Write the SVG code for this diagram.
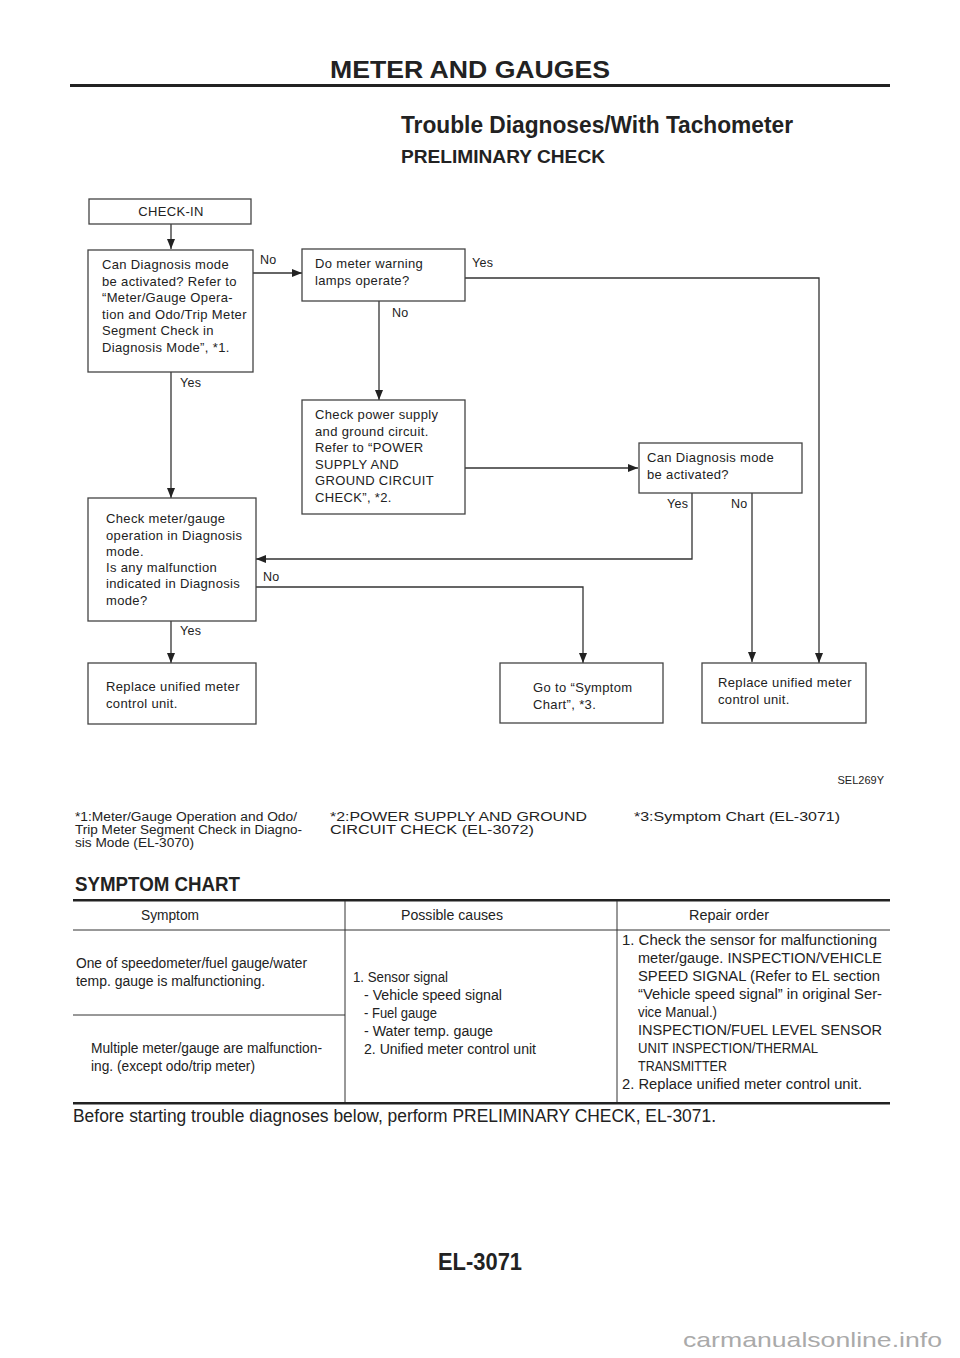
<svg xmlns="http://www.w3.org/2000/svg" width="960" height="1358" viewBox="0 0 960 1358">
<style>
text{font-family:"Liberation Sans",Arial,sans-serif;fill:#222}
.hd{font-weight:bold}
.ft{font-size:13px;letter-spacing:0.35px}
.lb{font-size:12.5px;letter-spacing:0.3px}
.box{fill:#fff;stroke:#444;stroke-width:1.3}
.cn{fill:none;stroke:#333;stroke-width:1.3}
.tb{font-size:14px}
.fn{font-size:12.5px}
</style>
<defs>
<marker id="ah" markerWidth="10" markerHeight="8" refX="10" refY="4" orient="auto" markerUnits="userSpaceOnUse">
<path d="M0,0 L10,4 L0,8 z" fill="#222"/>
</marker>
</defs>
<rect width="960" height="1358" fill="#fff"/>
<g id="header">
<text class="hd" x="470" y="78" font-size="24" text-anchor="middle" textLength="280" lengthAdjust="spacingAndGlyphs">METER AND GAUGES</text>
<rect x="70" y="84" width="820" height="3" fill="#222"/>
<text class="hd" x="401" y="133" font-size="23" textLength="392" lengthAdjust="spacingAndGlyphs">Trouble Diagnoses/With Tachometer</text>
<text class="hd" x="401" y="163" font-size="18" textLength="204" lengthAdjust="spacingAndGlyphs">PRELIMINARY CHECK</text>
</g>
<g id="connectors">
<path class="cn" d="M171,224 V249" marker-end="url(#ah)"/>
<path class="cn" d="M253,273 H302" marker-end="url(#ah)"/>
<path class="cn" d="M465,278 H819 V663" marker-end="url(#ah)"/>
<path class="cn" d="M379,301 V400" marker-end="url(#ah)"/>
<path class="cn" d="M465,468 H638" marker-end="url(#ah)"/>
<path class="cn" d="M692,493 V559 H256" marker-end="url(#ah)"/>
<path class="cn" d="M752,493 V662" stroke="#666" marker-end="url(#ah)"/>
<path class="cn" d="M171,372 V498" marker-end="url(#ah)"/>
<path class="cn" d="M256,587 H583 V663" marker-end="url(#ah)"/>
<path class="cn" d="M171,621 V663" marker-end="url(#ah)"/>
<text class="lb" x="260" y="264">No</text>
<text class="lb" x="472" y="267">Yes</text>
<text class="lb" x="392" y="317">No</text>
<text class="lb" x="667" y="508">Yes</text>
<text class="lb" x="731" y="508">No</text>
<text class="lb" x="180" y="387">Yes</text>
<text class="lb" x="263" y="581">No</text>
<text class="lb" x="180" y="635">Yes</text>
</g>
<g id="n-checkin">
<rect class="box" x="89" y="199" width="162" height="25"/>
<text class="ft" x="171" y="216" text-anchor="middle">CHECK-IN</text>
</g>
<g id="n-diag1">
<rect class="box" x="88" y="250" width="165" height="122"/>
<text class="ft" x="102" y="269">Can Diagnosis mode</text>
<text class="ft" x="102" y="285.5">be activated? Refer to</text>
<text class="ft" x="102" y="302">“Meter/Gauge Opera-</text>
<text class="ft" x="102" y="318.5">tion and Odo/Trip Meter</text>
<text class="ft" x="102" y="335">Segment Check in</text>
<text class="ft" x="102" y="351.5">Diagnosis Mode”, *1.</text>
</g>
<g id="n-lamps">
<rect class="box" x="302" y="249" width="163" height="52"/>
<text class="ft" x="315" y="268">Do meter warning</text>
<text class="ft" x="315" y="285">lamps operate?</text>
</g>
<g id="n-power">
<rect class="box" x="302" y="400" width="163" height="114"/>
<text class="ft" x="315" y="419">Check power supply</text>
<text class="ft" x="315" y="435.5">and ground circuit.</text>
<text class="ft" x="315" y="452">Refer to “POWER</text>
<text class="ft" x="315" y="468.5">SUPPLY AND</text>
<text class="ft" x="315" y="485">GROUND CIRCUIT</text>
<text class="ft" x="315" y="501.5">CHECK”, *2.</text>
</g>
<g id="n-diag2">
<rect class="box" x="639" y="443" width="163" height="50"/>
<text class="ft" x="647" y="462">Can Diagnosis mode</text>
<text class="ft" x="647" y="479">be activated?</text>
</g>
<g id="n-checkmeter">
<rect class="box" x="88" y="498" width="168" height="123"/>
<text class="ft" x="106" y="523">Check meter/gauge</text>
<text class="ft" x="106" y="539.5">operation in Diagnosis</text>
<text class="ft" x="106" y="556">mode.</text>
<text class="ft" x="106" y="572">Is any malfunction</text>
<text class="ft" x="106" y="588">indicated in Diagnosis</text>
<text class="ft" x="106" y="604.5">mode?</text>
</g>
<g id="n-replace1">
<rect class="box" x="88" y="663" width="168" height="61"/>
<text class="ft" x="106" y="691">Replace unified meter</text>
<text class="ft" x="106" y="708">control unit.</text>
</g>
<g id="n-symptom">
<rect class="box" x="500" y="663" width="163" height="60"/>
<text class="ft" x="533" y="692">Go to “Symptom</text>
<text class="ft" x="533" y="709">Chart”, *3.</text>
</g>
<g id="n-replace2">
<rect class="box" x="702" y="663" width="164" height="60"/>
<text class="ft" x="718" y="687">Replace unified meter</text>
<text class="ft" x="718" y="704">control unit.</text>
</g>
<g id="notes">
<text x="884" y="784" font-size="11" text-anchor="end">SEL269Y</text>
<text class="fn" x="75" y="821" textLength="222" lengthAdjust="spacingAndGlyphs">*1:Meter/Gauge Operation and Odo/</text>
<text class="fn" x="75" y="834" textLength="227" lengthAdjust="spacingAndGlyphs">Trip Meter Segment Check in Diagno-</text>
<text class="fn" x="75" y="847" textLength="119" lengthAdjust="spacingAndGlyphs">sis Mode (EL-3070)</text>
<text class="fn" x="330" y="821" textLength="257" lengthAdjust="spacingAndGlyphs">*2:POWER SUPPLY AND GROUND</text>
<text class="fn" x="330" y="834" textLength="204" lengthAdjust="spacingAndGlyphs">CIRCUIT CHECK (EL-3072)</text>
<text class="fn" x="634" y="821" textLength="206" lengthAdjust="spacingAndGlyphs">*3:Symptom Chart (EL-3071)</text>
</g>
<g id="symptom-chart">
<text class="hd" x="75" y="891" font-size="20" textLength="165" lengthAdjust="spacingAndGlyphs">SYMPTOM CHART</text>
<rect x="73" y="899" width="817" height="2.5" fill="#222"/>
<line x1="73" y1="930" x2="890" y2="930" stroke="#333" stroke-width="1"/>
<line x1="345" y1="901" x2="345" y2="1103" stroke="#333" stroke-width="1"/>
<line x1="617" y1="901" x2="617" y2="1103" stroke="#333" stroke-width="1"/>
<line x1="73" y1="1015" x2="345" y2="1015" stroke="#333" stroke-width="1"/>
<rect x="73" y="1102" width="817" height="2.5" fill="#222"/>
<text class="tb" x="170" y="920" text-anchor="middle" textLength="58" lengthAdjust="spacingAndGlyphs">Symptom</text>
<text class="tb" x="452" y="920" text-anchor="middle" textLength="102" lengthAdjust="spacingAndGlyphs">Possible causes</text>
<text class="tb" x="729" y="920" text-anchor="middle" textLength="80" lengthAdjust="spacingAndGlyphs">Repair order</text>
<text class="tb" x="76" y="968" textLength="231" lengthAdjust="spacingAndGlyphs">One of speedometer/fuel gauge/water</text>
<text class="tb" x="76" y="986" textLength="189" lengthAdjust="spacingAndGlyphs">temp. gauge is malfunctioning.</text>
<text class="tb" x="91" y="1053" textLength="231" lengthAdjust="spacingAndGlyphs">Multiple meter/gauge are malfunction-</text>
<text class="tb" x="91" y="1071" textLength="164" lengthAdjust="spacingAndGlyphs">ing. (except odo/trip meter)</text>
<text class="tb" x="353" y="982" textLength="95" lengthAdjust="spacingAndGlyphs">1. Sensor signal</text>
<text class="tb" x="364" y="1000" textLength="138" lengthAdjust="spacingAndGlyphs">- Vehicle speed signal</text>
<text class="tb" x="364" y="1018" textLength="73" lengthAdjust="spacingAndGlyphs">- Fuel gauge</text>
<text class="tb" x="364" y="1036" textLength="129" lengthAdjust="spacingAndGlyphs">- Water temp. gauge</text>
<text class="tb" x="364" y="1054" textLength="172" lengthAdjust="spacingAndGlyphs">2. Unified meter control unit</text>
<text class="tb" x="622" y="945" textLength="255" lengthAdjust="spacingAndGlyphs">1. Check the sensor for malfunctioning</text>
<text class="tb" x="638" y="963" textLength="244" lengthAdjust="spacingAndGlyphs">meter/gauge. INSPECTION/VEHICLE</text>
<text class="tb" x="638" y="981" textLength="242" lengthAdjust="spacingAndGlyphs">SPEED SIGNAL (Refer to EL section</text>
<text class="tb" x="638" y="999" textLength="244" lengthAdjust="spacingAndGlyphs">“Vehicle speed signal” in original Ser-</text>
<text class="tb" x="638" y="1017" textLength="79" lengthAdjust="spacingAndGlyphs">vice Manual.)</text>
<text class="tb" x="638" y="1035" textLength="244" lengthAdjust="spacingAndGlyphs">INSPECTION/FUEL LEVEL SENSOR</text>
<text class="tb" x="638" y="1053" textLength="180" lengthAdjust="spacingAndGlyphs">UNIT INSPECTION/THERMAL</text>
<text class="tb" x="638" y="1071" textLength="89" lengthAdjust="spacingAndGlyphs">TRANSMITTER</text>
<text class="tb" x="622" y="1089" textLength="240" lengthAdjust="spacingAndGlyphs">2. Replace unified meter control unit.</text>
<text x="73" y="1122" font-size="17.5" textLength="643" lengthAdjust="spacingAndGlyphs">Before starting trouble diagnoses below, perform PRELIMINARY CHECK, EL-3071.</text>
</g>
<g id="footer">
<text class="hd" x="480" y="1270" font-size="24" text-anchor="middle" textLength="84" lengthAdjust="spacingAndGlyphs">EL-3071</text>
<text x="683" y="1347" font-size="21" style="fill:#aaa" textLength="259" lengthAdjust="spacingAndGlyphs">carmanualsonline.info</text>
</g>
</svg>
